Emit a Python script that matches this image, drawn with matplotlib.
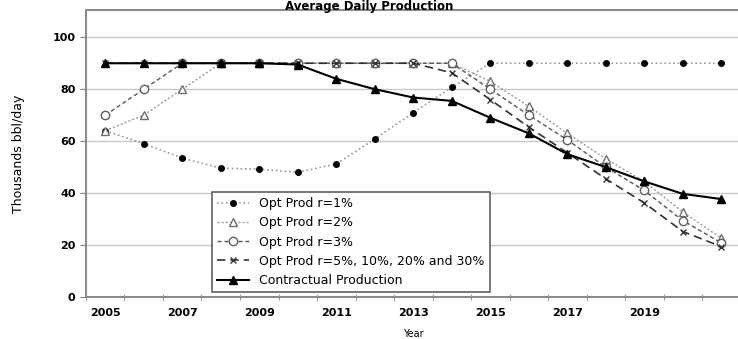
import numpy as np
import matplotlib
matplotlib.use("Agg")
import matplotlib.pyplot as plt

years = np.arange(2005, 2022)
tick_years = [2005, 2007, 2009, 2011, 2013, 2015, 2017, 2019]

opt_r1 = [64, 59, 53.5, 49.6, 49.2, 48, 51.2, 60.8, 71, 80.7, 90, 90, 90, 90, 90, 90, 90]
opt_r2 = [64, 70, 80, 90, 90, 90, 90, 90, 90, 90, 83, 73.4, 63, 53.2, 44.5, 32.7, 22.6]
opt_r3 = [70, 80, 90, 90, 90, 90, 90, 90, 90, 90, 80, 70, 60.5, 50, 41, 29.4, 20.8]
opt_r5 = [90, 90, 90, 90, 90, 90, 90, 90, 90, 86.3, 76, 65.4, 55.5, 45.5, 36.2, 25.2, 19.4]
contractual = [90, 90, 90, 90, 90, 89.5, 84, 80, 76.8, 75.5, 69, 63, 55, 50, 44.5, 39.7, 37.7]

labels = ["Opt Prod r=1%", "Opt Prod r=2%", "Opt Prod r=3%",
          "Opt Prod r=5%, 10%, 20% and 30%", "Contractual Production"]

fig = plt.figure(figsize=(7.38, 3.39), dpi=100)
ax = fig.add_axes([0.1165, 0.124, 0.887, 0.8465])

ax.plot(years, opt_r1, color="#9a9a9a", linestyle=":", linewidth=1.2,
        marker="o", markersize=4, markerfacecolor="black", markeredgecolor="black",
        label=labels[0], zorder=3)
ax.plot(years, opt_r2, color="#9a9a9a", linestyle=(0, (1.5, 1.5)), linewidth=1.0,
        marker="^", markersize=6, markerfacecolor="white", markeredgecolor="#707070",
        label=labels[1], zorder=3)
ax.plot(years, opt_r3, color="#555555", linestyle=(0, (3, 2)), linewidth=1.0,
        marker="o", markersize=6, markerfacecolor="white", markeredgecolor="#606060",
        label=labels[2], zorder=3)
ax.plot(years, opt_r5, color="#333333", linestyle=(0, (5, 3)), linewidth=1.2,
        marker="x", markersize=5, markeredgecolor="#333333",
        label=labels[3], zorder=3)
ax.plot(years, contractual, color="black", linestyle="-", linewidth=1.5,
        marker="^", markersize=6, markerfacecolor="black", markeredgecolor="black",
        label=labels[4], zorder=4)

ax.set_xlim(2004.5, 2021.5)
ax.set_ylim(0, 110.5)
ax.set_yticks([0, 20, 40, 60, 80, 100])
ax.set_xticks(tick_years)
ax.set_xticks(np.arange(2004.5, 2022, 1), minor=True)
ax.tick_params(axis="x", which="major", length=0, labelsize=8, pad=8)
ax.tick_params(axis="x", which="minor", length=4, direction="inout", color="#808080")
ax.tick_params(axis="y", length=4, direction="out", color="#808080", labelsize=8)
for lab in ax.get_xticklabels() + ax.get_yticklabels():
    lab.set_fontweight("bold")

ax.grid(axis="y", color="#c8c8c8", linewidth=1.0)
ax.set_axisbelow(True)
for side in ["left", "bottom", "top", "right"]:
    ax.spines[side].set_color("#8c8c8c")
    ax.spines[side].set_linewidth(1.5)

ax.set_xlabel("Year", fontsize=7, labelpad=8)
ax.set_ylabel("Thousands bbl/day", fontsize=9, labelpad=20)
fig.text(0.5, 1.0, "Average Daily Production", ha="center", va="top",
         fontsize=8.5, fontweight="bold")

leg = ax.legend(loc="lower left", bbox_to_anchor=(0.1925, 0.017), fontsize=9,
                frameon=True, fancybox=False, handlelength=2.6, labelspacing=0.5,
                borderpad=0.4, borderaxespad=0)
leg.get_frame().set_edgecolor("#606060")
leg.get_frame().set_linewidth(1.2)
leg.get_frame().set_alpha(1)

fig.savefig("out.png", dpi=100)
